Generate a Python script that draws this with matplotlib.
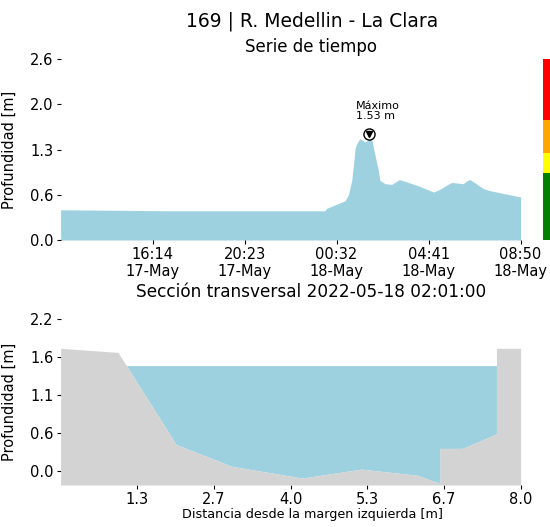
import numpy as np
import pandas as pd
import matplotlib
matplotlib.use("Agg")
import matplotlib.pyplot as plt

# ---------------- data ----------------
station_title = "169 | R. Medellin - La Clara"
ts_title = "Serie de tiempo"
section_title = "Sección transversal 2022-05-18 02:01:00"

ts_times = [
    "2022-05-17 12:05", "2022-05-17 13:45", "2022-05-17 17:05", "2022-05-17 20:25",
    "2022-05-18 00:00", "2022-05-18 00:05", "2022-05-18 00:55", "2022-05-18 01:04",
    "2022-05-18 01:13", "2022-05-18 01:19", "2022-05-18 01:22", "2022-05-18 01:26",
    "2022-05-18 01:35", "2022-05-18 01:49", "2022-05-18 01:58", "2022-05-18 02:01",
    "2022-05-18 02:07", "2022-05-18 02:13", "2022-05-18 02:25", "2022-05-18 02:29",
    "2022-05-18 02:43", "2022-05-18 03:01", "2022-05-18 03:22", "2022-05-18 03:51",
    "2022-05-18 04:18", "2022-05-18 04:36", "2022-05-18 04:54", "2022-05-18 05:12",
    "2022-05-18 05:30", "2022-05-18 05:44", "2022-05-18 05:57", "2022-05-18 06:15",
    "2022-05-18 06:24", "2022-05-18 06:33", "2022-05-18 06:47", "2022-05-18 07:09",
    "2022-05-18 07:27", "2022-05-18 07:54", "2022-05-18 08:21", "2022-05-18 08:50",
]
ts_depth = [
    0.435, 0.43, 0.42, 0.42,
    0.42, 0.455, 0.565, 0.65,
    0.86, 1.15, 1.32, 1.38,
    1.46, 1.41, 1.44, 1.53,
    1.46, 1.29, 1.00, 0.86,
    0.81, 0.80, 0.87, 0.82,
    0.77, 0.73, 0.69, 0.73,
    0.79, 0.83, 0.82, 0.81,
    0.85, 0.87, 0.82, 0.74,
    0.71, 0.68, 0.65, 0.62,
]
ts_xtick_times = ["2022-05-17 16:14", "2022-05-17 20:23", "2022-05-18 00:32",
                  "2022-05-18 04:41", "2022-05-18 08:50"]
ts_xtick_labels = ["16:14\n17-May", "20:23\n17-May", "00:32\n18-May",
                   "04:41\n18-May", "08:50\n18-May"]
ts_yticks = [0.0, 0.65, 1.3, 1.95, 2.6]
ts_ytick_labels = ["0.0", "0.6", "1.3", "2.0", "2.6"]

# alert levels (color bar at right)
alert_bounds = [0.0, 0.96, 1.25, 1.72, 2.6]
alert_colors = ["green", "yellow", "orange", "red"]

# cross section
sec_x = [0.0, 1.00, 2.01, 2.98, 4.20, 5.23, 6.21, 6.60, 6.60, 6.99, 7.58, 7.58, 8.0]
sec_y = [1.78, 1.72, 0.385, 0.07, -0.10, 0.03, -0.06, -0.18, 0.33, 0.33, 0.54, 1.78, 1.78]
water_level = 1.53
sec_xticks = [1.333, 2.667, 4.0, 5.333, 6.667, 8.0]
sec_xtick_labels = ["1.3", "2.7", "4.0", "5.3", "6.7", "8.0"]
sec_yticks = [0.0, 0.55, 1.1, 1.65, 2.2]
sec_ytick_labels = ["0.0", "0.6", "1.1", "1.6", "2.2"]

# ---------------- figure ----------------
water_color = "#9ed1e0"
ground_color = "#d3d3d3"

fig = plt.figure(figsize=(5.5, 5.27), dpi=100)
W, H = 550.0, 527.0

def axpos(x0, y0, x1, y1):
    return [x0 / W, 1 - y1 / H, (x1 - x0) / W, (y1 - y0) / H]

ax1 = fig.add_axes(axpos(60.6, 59.3, 520.6, 240))
ax2 = fig.add_axes(axpos(60.6, 319.3, 520.6, 485))
axc = fig.add_axes(axpos(543, 59.3, 570, 240))

t = pd.to_datetime(ts_times)
d = np.array(ts_depth)
ax1.fill_between(t, 0, d, color=water_color, linewidth=0)
ax1.set_xlim(t[0], t[-1])
ax1.set_ylim(0, 2.6)
ax1.set_yticks(ts_yticks)
ax1.set_yticklabels(ts_ytick_labels)
ax1.set_xticks(pd.to_datetime(ts_xtick_times))
ax1.set_xticklabels(ts_xtick_labels)
ax1.set_ylabel("Profundidad [m]", fontsize=10.5)

imax = int(np.argmax(d))
ax1.plot(t[imax], d[imax], marker="o", ms=8, mfc="white", mec="black", mew=1.0, zorder=5)
ax1.plot(t[imax], d[imax], marker="v", ms=4.5, color="black", zorder=6)
ax1.annotate("Máximo\n%.2f m" % d[imax], xy=(t[imax], d[imax]), xytext=(-10, 9),
             textcoords="offset points", ha="left", va="bottom", fontsize=8,
             linespacing=1.0)

# alert color bar
for lo, hi, c in zip(alert_bounds[:-1], alert_bounds[1:], alert_colors):
    axc.bar(0, hi - lo, bottom=lo, width=1.0, color=c, linewidth=0)
axc.set_xlim(-0.5, 0.5)
axc.set_ylim(0, 2.6)
axc.axis("off")

# cross section
sx = np.array(sec_x)
sy = np.array(sec_y)
ymin = -0.2
ax2.fill_between(sx, ymin, sy, color=ground_color, linewidth=0, zorder=2)
ax2.fill_between(sx, sy, water_level, where=sy < water_level, interpolate=True,
                 color=water_color, linewidth=0, zorder=1)
ax2.set_xlim(0, 8.0)
ax2.set_ylim(ymin, 2.2)
ax2.set_xticks(sec_xticks)
ax2.set_xticklabels(sec_xtick_labels)
ax2.set_yticks(sec_yticks)
ax2.set_yticklabels(sec_ytick_labels)
ax2.set_ylabel("Profundidad [m]", fontsize=10.5)
ax2.set_xlabel("Distancia desde la margen izquierda [m]", fontsize=9.2)

for ax in (ax1, ax2):
    for s in ax.spines.values():
        s.set_visible(False)
    ax.tick_params(axis="both", length=3, width=0.8, labelsize=10.5, pad=2)
    ax.yaxis.set_label_coords(-0.095, 0.5)

ax2.xaxis.set_label_coords((312 - 60.6) / 460, -0.14)

# titles
fig.text(312 / W, 1 - 21 / H, station_title, ha="center", va="center", fontsize=13.5)
fig.text(311 / W, 1 - 47 / H, ts_title, ha="center", va="center", fontsize=12)
fig.text(311 / W, 1 - 292 / H, section_title, ha="center", va="center", fontsize=12.2)

fig.savefig("out.png", dpi=100)
